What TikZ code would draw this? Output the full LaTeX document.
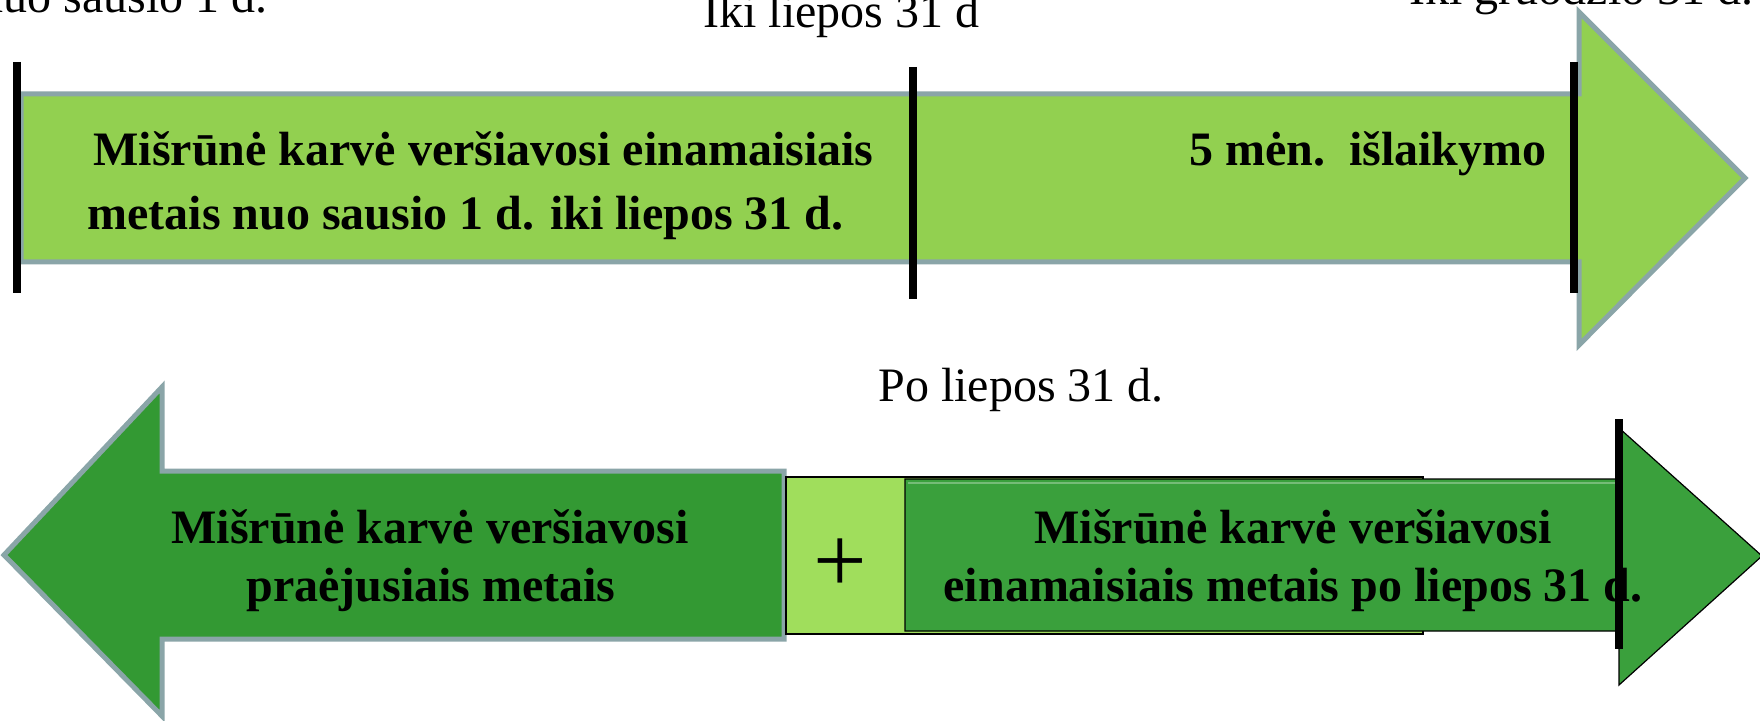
\documentclass[tikz,border=0pt]{standalone}
\usepackage{fontspec}
\setmainfont{Liberation Serif}
\usepackage{xcolor}
\definecolor{lightgreen}{RGB}{146,208,80}
\definecolor{edgegray}{RGB}{138,165,168}
\definecolor{plusgreen}{RGB}{160,222,92}
\definecolor{darkgreen}{RGB}{51,153,51}
\definecolor{midgreen}{RGB}{58,160,60}

\begin{document}
\begin{tikzpicture}[
  x=0.5pt, y=-0.5pt,
  grayarrow/.style={draw=edgegray, line width=2.5pt, line join=miter},
  blackarrow/.style={draw=black, line width=0.6pt, line join=miter},
  timebar/.style={draw=black, line width=4pt},
  boldtxt/.style={font=\bfseries\fontsize{24}{29}\selectfont, inner sep=0pt},
  plaintxt/.style={font=\fontsize{24}{29}\selectfont, inner sep=0pt}
]
  \useasboundingbox (0,0) rectangle (1760,721);

  % upper time line
  \draw[grayarrow, fill=lightgreen] (21,94) -- (1579,94) -- (1579,12) -- (1745,178)
    -- (1579,345) -- (1579,262) -- (21,262) -- cycle;

  % lower part
  \draw[grayarrow, fill=darkgreen] (784,471) -- (162,471) -- (162,387) -- (4,555)
    -- (162,716) -- (162,639) -- (784,639) -- cycle;
  \draw[blackarrow, fill=plusgreen] (786,477) rectangle (1423,634);
  \draw[blackarrow, fill=midgreen] (905,479) -- (1619,479) -- (1619,428) -- (1762,556)
    -- (1619,685) -- (1619,631) -- (905,631) -- cycle;
  \draw[midgreen!70!white, line width=1pt] (908,483) -- (1616,483);

  % date marks
  \draw[timebar] (16.5,62) -- (16.5,293);
  \draw[timebar] (913,67) -- (913,299);
  \draw[timebar] (1574,62) -- (1574,293);
  \draw[timebar] (1619,419) -- (1619,649);

  % labels above
  \node[plaintxt, anchor=base east] (from) at (268,13) {nuo sausio 1 d.};
  \node[plaintxt, anchor=base west] (july) at (703,28) {Iki liepos 31 d};
  \node[plaintxt, anchor=base west] (dec) at (1409,5) {Iki gruodžio 31 d.};
  \node[plaintxt, anchor=base west] (after) at (878,401) {Po liepos 31 d.};

  % texts in the upper arrow
  \node[boldtxt, anchor=base west] (cur1) at (93,166) {Mišrūnė karvė veršiavosi einamaisiais};
  \node[boldtxt, anchor=base west] (cur2) at (87,230) {metais nuo sausio 1 d. iki liepos 31 d.};
  \node[boldtxt, anchor=base east] (keep) at (1547,166) {5 mėn.\ \ išlaikymo};

  % texts in the lower arrows
  \node[boldtxt, anchor=base] (prev1) at (430,543) {Mišrūnė karvė veršiavosi};
  \node[boldtxt, anchor=base] (prev2) at (431,601) {praėjusiais metais};
  \node[font=\fontsize{47.5}{50}\selectfont, inner sep=0pt, anchor=base] (plus) at (840,592) {+};
  \node[boldtxt, anchor=base] (late1) at (1293,543) {Mišrūnė karvė veršiavosi};
  \node[boldtxt, anchor=base] (late2) at (1293,601) {einamaisiais metais po liepos 31 d.};
\end{tikzpicture}
\end{document}
